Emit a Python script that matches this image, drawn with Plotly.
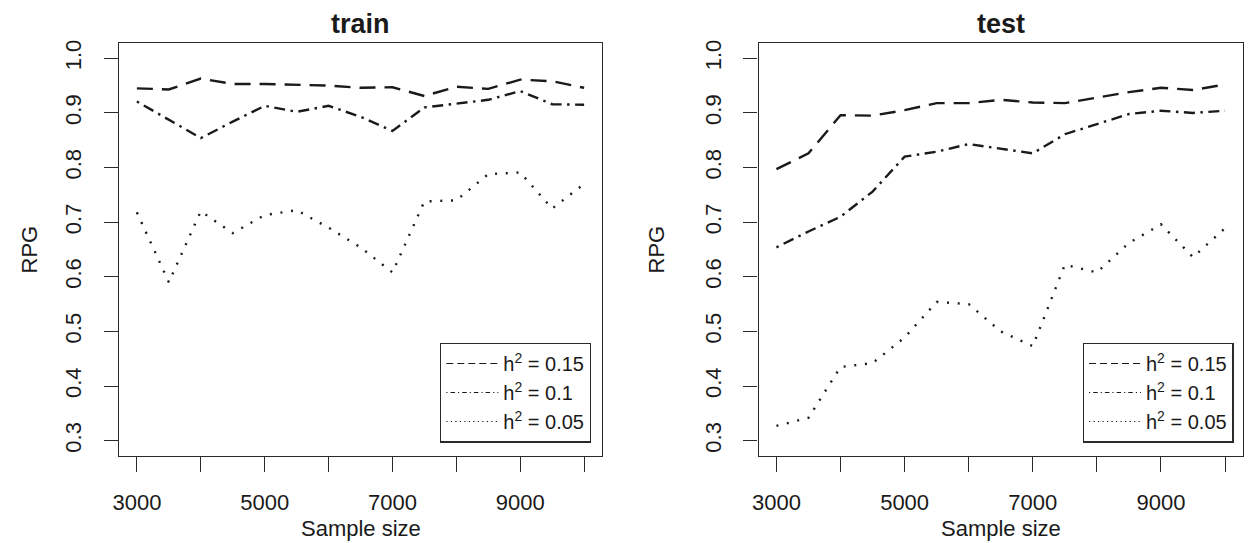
import plotly.graph_objects as go

# ---- data ----
sample_size = [3000, 3500, 4000, 4500, 5000, 5500, 6000, 6500, 7000, 7500, 8000, 8500, 9000, 9500, 10000]

train_h015 = [0.945, 0.943, 0.963, 0.953, 0.953, 0.951, 0.950, 0.946, 0.947, 0.931, 0.948, 0.944, 0.961, 0.958, 0.946]
train_h010 = [0.921, 0.887, 0.854, 0.884, 0.913, 0.902, 0.913, 0.893, 0.867, 0.910, 0.917, 0.924, 0.940, 0.916, 0.915]
train_h005 = [0.718, 0.590, 0.720, 0.680, 0.713, 0.722, 0.690, 0.654, 0.608, 0.738, 0.740, 0.788, 0.791, 0.725, 0.770]

test_h015 = [0.797, 0.826, 0.896, 0.895, 0.905, 0.918, 0.918, 0.924, 0.919, 0.918, 0.928, 0.938, 0.946, 0.942, 0.952]
test_h010 = [0.654, 0.683, 0.710, 0.756, 0.820, 0.829, 0.843, 0.834, 0.826, 0.861, 0.879, 0.898, 0.904, 0.900, 0.904]
test_h005 = [0.327, 0.342, 0.435, 0.442, 0.489, 0.554, 0.550, 0.500, 0.473, 0.622, 0.608, 0.662, 0.696, 0.636, 0.689]

series_names = ["h<sup>2</sup> = 0.15", "h<sup>2</sup> = 0.1", "h<sup>2</sup> = 0.05"]
panel_titles = ["train", "test"]
x_title = "Sample size"
y_title = "RPG"
x_tickvals = [3000, 4000, 5000, 6000, 7000, 8000, 9000, 10000]
x_ticktext = ["3000", "", "5000", "", "7000", "", "9000", ""]
y_tickvals = [0.3, 0.4, 0.5, 0.6, 0.7, 0.8, 0.9, 1.0]
y_ticktext = ["0.3", "0.4", "0.5", "0.6", "0.7", "0.8", "0.9", "1.0"]

# ---- style ----
# page body has an 8px default margin, so the figure is sized to fill the rest
OFF = 8
W, H = 1255 - OFF, 543 - OFF
FONT = "Liberation Sans, Arial, Helvetica, sans-serif"
INK = "#1a1a1a"
AX = "#2a2a2a"
dashes = ["16px,9px", "2.5px,5.5px,11px,5.5px", "2px,8.7px"]
legend_dashes = ["7px,4px", "1.2px,3px,4.5px,3px", "1.2px,3.3px"]

# screen-pixel layout of the reference, converted to figure pixels
left_px = [(119 - OFF, 602 - OFF), (758.5 - OFF, 1243 - OFF)]
top_px, bot_px = 43 - OFF, 456 - OFF

fig = go.Figure()

panels = [
    (train_h015, train_h010, train_h005),
    (test_h015, test_h010, test_h005),
]

for p, data in enumerate(panels):
    xa = "x" if p == 0 else "x2"
    ya = "y" if p == 0 else "y2"
    lg = "legend" if p == 0 else "legend2"
    for s, vals in enumerate(data):
        fig.add_trace(go.Scatter(
            x=sample_size, y=vals, mode="lines",
            name=series_names[s],
            line=dict(color=INK, width=2.4, dash=dashes[s]),
            xaxis=xa, yaxis=ya, showlegend=False,
        ))
    # legend keys: thin lines, as in the reference legend
    for s in range(3):
        fig.add_trace(go.Scatter(
            x=[None], y=[None], mode="lines",
            name=series_names[s],
            line=dict(color=INK, width=1.1, dash=legend_dashes[s]),
            xaxis=xa, yaxis=ya, legend=lg, showlegend=True, hoverinfo="skip",
        ))

def xaxis(dom, anchor):
    return dict(
        domain=dom, anchor=anchor, range=[2720, 10280],
        tickvals=x_tickvals, ticktext=x_ticktext,
        ticks="outside", ticklen=15, tickwidth=1.3, tickcolor=AX,
        showline=True, linecolor=AX, linewidth=1.3, mirror=True,
        showgrid=False, zeroline=False, automargin=False,
        tickfont=dict(family=FONT, size=22, color=INK),
        ticklabelstandoff=11,
    )

def yaxis(anchor):
    return dict(
        domain=[1 - bot_px / H, 1 - top_px / H], anchor=anchor, range=[0.272, 1.028],
        tickvals=y_tickvals, ticktext=y_ticktext, tickangle=-90,
        ticks="outside", ticklen=14, tickwidth=1.3, tickcolor=AX,
        showline=True, linecolor=AX, linewidth=1.3, mirror=True,
        showgrid=False, zeroline=False, automargin=False,
        tickfont=dict(family=FONT, size=22, color=INK),
        ticklabelstandoff=14,
    )

doms = [[l / W, r / W] for (l, r) in left_px]

legend_style = dict(
    xanchor="left", yanchor="top",
    bgcolor="white", bordercolor=AX, borderwidth=1.3,
    font=dict(family=FONT, size=20, color=INK),
    itemwidth=52,
    itemclick=False, itemdoubleclick=False,
)

annotations = []
for p in range(2):
    l, r = left_px[p]
    cx = (l + r) / 2 / W
    annotations.append(dict(text="<b>" + panel_titles[p] + "</b>", x=cx, y=1 - (24 - OFF) / H,
                            xref="paper", yref="paper", showarrow=False,
                            xanchor="center", yanchor="middle",
                            font=dict(family=FONT, size=27, color=INK)))
    annotations.append(dict(text=x_title, x=cx, y=1 - (528 - OFF) / H,
                            xref="paper", yref="paper", showarrow=False,
                            xanchor="center", yanchor="middle",
                            font=dict(family=FONT, size=22, color=INK)))
    annotations.append(dict(text=y_title, x=((29 if p == 0 else 656) - OFF) / W,
                            y=1 - ((top_px + bot_px) / 2) / H,
                            xref="paper", yref="paper", showarrow=False, textangle=-90,
                            xanchor="center", yanchor="middle",
                            font=dict(family=FONT, size=22, color=INK)))

fig.update_layout(
    width=W, height=H,
    margin=dict(l=0, r=0, t=0, b=0),
    paper_bgcolor="white", plot_bgcolor="white",
    font=dict(family=FONT, color=INK),
    xaxis=xaxis(doms[0], "y"),
    yaxis=yaxis("x"),
    xaxis2=xaxis(doms[1], "y2"),
    yaxis2=yaxis("x2"),
    legend=dict(x=(440 - OFF) / W, y=1 - (342.7 - OFF) / H, **legend_style),
    legend2=dict(x=(1082.7 - OFF) / W, y=1 - (342.7 - OFF) / H, **legend_style),
    annotations=annotations,
)

fig.write_html("out.html")
